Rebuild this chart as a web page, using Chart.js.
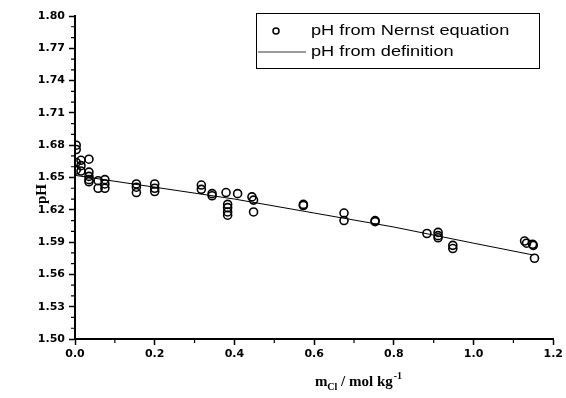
<!DOCTYPE html>
<html><head><meta charset="utf-8">
<script src="https://cdn.jsdelivr.net/npm/chart.js@4/dist/chart.umd.min.js"></script>
<style>html,body{margin:0;padding:0;background:#fff;}canvas{display:block}</style>
</head><body>
<canvas id="c" width="566" height="398"></canvas>
<script>
// ---- data ----
const nernstM  = [0.003,0.003,0.003,0.003, 0.015,0.015,0.015, 0.035,0.035,0.035,0.035,0.035, 0.058,0.058, 0.075,0.075,0.075,
                  0.154,0.154,0.154, 0.200,0.200,0.200, 0.317,0.317, 0.344,0.344, 0.379, 0.383,0.383,0.383,0.383, 0.408,
                  0.444, 0.448,0.448, 0.573,0.573, 0.675,0.675, 0.753,0.753, 0.883, 0.911,0.911,0.911, 0.948,0.948,
                  1.128,1.133, 1.148,1.150, 1.153];
const nernstPH = [1.680,1.676,1.664,1.657, 1.666,1.661,1.656, 1.667,1.655,1.651,1.648,1.646, 1.647,1.640, 1.648,1.644,1.640,
                  1.644,1.641,1.636, 1.644,1.640,1.637, 1.643,1.639, 1.635,1.633, 1.636, 1.625,1.622,1.618,1.615, 1.635,
                  1.632, 1.629,1.618, 1.625,1.624, 1.617,1.610, 1.610,1.609, 1.598, 1.599,1.596,1.594, 1.587,1.584,
                  1.591,1.589, 1.588,1.587, 1.575];
const defM  = [0, 0.2, 0.4, 0.6, 0.8, 1.0, 1.15];
const defPH = [1.652, 1.641, 1.630, 1.617, 1.604, 1.589, 1.578];
const xTickValues = [0, 0.2, 0.4, 0.6, 0.8, 1.0, 1.2];
const yTickValues = [1.50, 1.53, 1.56, 1.59, 1.62, 1.65, 1.68, 1.71, 1.74, 1.77, 1.80];
const seriesLabels = ['pH from Nernst equation', 'pH from definition'];
const yTitleText = 'pH';
const xTitleParts = ['m', 'Cl', ' / mol kg', '-1'];

const nernstData = nernstM.map((m, i) => ({x: m, y: nernstPH[i]}));
const defData = defM.map((m, i) => ({x: m, y: defPH[i]}));

const tickFont = {family: '"DejaVu Sans", Arial, sans-serif', size: 11, weight: 'bold'};

const extras = {
  id: 'extras',
  afterDraw(chart) {
    const ctx = chart.ctx;
    const xs = chart.scales.x, ys = chart.scales.y;
    const ca = chart.chartArea;
    ctx.save();
    ctx.strokeStyle = '#000';
    ctx.lineWidth = 1.2;
    // minor ticks
    ctx.beginPath();
    for (let k = 1; k < 12; k += 2) {
      const px = xs.getPixelForValue(k / 10);
      ctx.moveTo(px, ca.bottom); ctx.lineTo(px, ca.bottom + 4);
    }
    for (let k = 0; k <= 30; k++) {
      if (k % 3 === 0) continue;
      const py = ys.getPixelForValue(1.5 + k / 100);
      ctx.moveTo(ca.left, py); ctx.lineTo(ca.left - 4, py);
    }
    ctx.stroke();

    // legend box
    const lx = 256, ly = 13, lw = 283, lh = 55;
    ctx.lineWidth = 1;
    ctx.strokeRect(lx + 0.5, ly + 0.5, lw, lh);
    ctx.fillStyle = '#000';
    ctx.beginPath();
    ctx.lineWidth = 1.5;
    ctx.arc(276, 31, 3, 0, Math.PI * 2);
    ctx.stroke();
    ctx.beginPath();
    ctx.lineWidth = 0.8;
    ctx.moveTo(258, 52); ctx.lineTo(306, 52);
    ctx.stroke();
    ctx.save();
    ctx.translate(311, 0);
    ctx.scale(1.3, 1);
    ctx.font = '14px Arial, "Liberation Sans", sans-serif';
    ctx.textBaseline = 'middle';
    ctx.textAlign = 'left';
    ctx.fillText(chart.data.datasets[0].label, 0, 31);
    ctx.fillText(chart.data.datasets[1].label, 0, 52);
    ctx.restore();

    // y title
    ctx.save();
    ctx.translate(46, 194);
    ctx.rotate(-Math.PI / 2);
    ctx.textAlign = 'center';
    ctx.textBaseline = 'alphabetic';
    ctx.font = 'bold 15px "Times New Roman", "Liberation Serif", serif';
    ctx.fillText(yTitleText, 0, 0);
    ctx.restore();

    // x title with sub/superscript
    const base = 386;
    ctx.textBaseline = 'alphabetic';
    ctx.textAlign = 'left';
    const fMain = 'bold 15px "Times New Roman", "Liberation Serif", serif';
    const fSmall = 'bold 10px "Times New Roman", "Liberation Serif", serif';
    ctx.font = fMain; const w0 = ctx.measureText(xTitleParts[0]).width;
    const w2 = ctx.measureText(xTitleParts[2]).width;
    ctx.font = fSmall; const w1 = ctx.measureText(xTitleParts[1]).width;
    const w3 = ctx.measureText(xTitleParts[3]).width;
    let x = 358 - (w0 + w1 + w2 + w3) / 2;
    ctx.font = fMain; ctx.fillText(xTitleParts[0], x, base); x += w0;
    ctx.font = fSmall; ctx.fillText(xTitleParts[1], x, base + 4); x += w1;
    ctx.font = fMain; ctx.fillText(xTitleParts[2], x, base); x += w2;
    ctx.font = fSmall; ctx.fillText(xTitleParts[3], x + 1, base - 7);
    ctx.restore();
  }
};

new Chart(document.getElementById('c'), {
  type: 'scatter',
  data: {
    datasets: [
      {label: seriesLabels[0], data: nernstData, showLine: false, pointStyle: 'circle',
       pointRadius: 4, pointBorderWidth: 1.6, pointBorderColor: '#000', pointBackgroundColor: 'rgba(0,0,0,0)', order: 1},
      {label: seriesLabels[1], data: defData, showLine: true, pointRadius: 0, borderColor: '#000',
       borderWidth: 1, fill: false, tension: 0, order: 2}
    ]
  },
  options: {
    responsive: false, animation: false, devicePixelRatio: 1,
    layout: {padding: {top: 16, right: 11, left: 0, bottom: 0}},
    plugins: {legend: {display: false}, tooltip: {enabled: false}, title: {display: false}},
    scales: {
      x: {
        type: 'linear', min: 0, max: 1.2,
        afterBuildTicks: s => { s.ticks = xTickValues.map(v => ({value: v})); },
        afterFit: s => { s.height = 59; },
        ticks: {color: '#000', font: tickFont, padding: 3, maxRotation: 0, callback: v => Number(v).toFixed(1)},
        grid: {display: true, drawOnChartArea: false, drawTicks: true, tickLength: 6, tickColor: '#000', tickWidth: 1.5},
        border: {display: true, color: '#000', width: 2}
      },
      y: {
        type: 'linear', min: 1.5, max: 1.8,
        afterBuildTicks: s => { s.ticks = yTickValues.map(v => ({value: v})); },
        afterFit: s => { s.width = 75; },
        ticks: {color: '#000', font: tickFont, padding: 4, callback: v => Number(v).toFixed(2)},
        grid: {display: true, drawOnChartArea: false, drawTicks: true, tickLength: 6, tickColor: '#000', tickWidth: 1.5},
        border: {display: true, color: '#000', width: 2}
      }
    }
  },
  plugins: [extras]
});
</script>
</body></html>
